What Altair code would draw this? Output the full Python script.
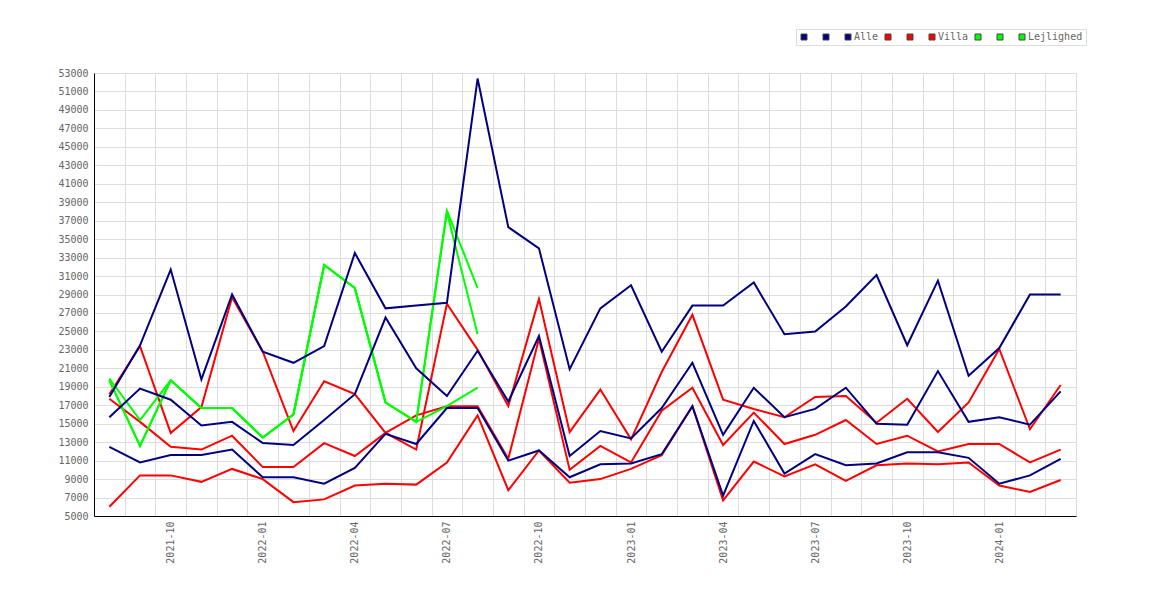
import altair as alt
import pandas as pd

months = ["2021-08", "2021-09", "2021-10", "2021-11", "2021-12",
          "2022-01", "2022-02", "2022-03", "2022-04", "2022-05", "2022-06",
          "2022-07", "2022-08", "2022-09", "2022-10", "2022-11", "2022-12",
          "2023-01", "2023-02", "2023-03", "2023-04", "2023-05", "2023-06",
          "2023-07", "2023-08", "2023-09", "2023-10", "2023-11", "2023-12",
          "2024-01", "2024-02", "2024-03"]

alle_a = [17900, 23500, 31700, 19800, 29000, 22800, 21600, 23400, 33500, 27500, 27800,
          28100, 52400, 36300, 34000, 20900, 27500, 30000, 22800, 27800, 27800, 30300,
          24700, 25000, 27700, 31100, 23500, 30500, 20200, 23200, 29000, 29000]
alle_b = [15700, 18800, 17600, 14800, 15200, 12900, 12700, 15400, 18200, 26500, 21000,
          18000, 22900, 17400, 24500, 11500, 14200, 13400, 16700, 21600, 13800, 18900,
          15700, 16600, 18900, 15000, 14900, 20700, 15200, 15700, 14900, 18500]
alle_c = [12500, 10800, 11600, 11600, 12200, 9200, 9200, 8500, 10200, 13900, 12800,
          16700, 16700, 11000, 12100, 9200, 10600, 10700, 11700, 16900, 7200, 15300,
          9600, 11700, 10500, 10700, 11900, 11900, 11300, 8500, 9400, 11200]

villa_a = [18200, 23400, 14000, 16800, 28700, 22800, 14200, 19600, 18200, 14000, 12200,
           28000, 23000, 16900, 28500, 14100, 18700, 13300, 20600, 26800, 17600, 16600,
           15700, 17900, 18000, 15100, 17700, 14100, 17300, 23100, 14400, 19200]
villa_b = [17700, 15200, 12500, 12200, 13700, 10300, 10300, 12900, 11500, 14000, 15900,
           16900, 16900, 11200, 24200, 10000, 12600, 10800, 16400, 18900, 12700, 16200,
           12800, 13800, 15400, 12800, 13700, 12000, 12800, 12800, 10800, 12200]
villa_c = [6000, 9400, 9400, 8700, 10100, 9000, 6500, 6800, 8300, 8500, 8400,
           10800, 15900, 7800, 12100, 8600, 9000, 10100, 11600, 16900, 6700, 10900,
           9300, 10600, 8800, 10500, 10700, 10600, 10800, 8300, 7600, 8900]

lej_a = [19900, 15400, 19700, 16700, 16700, 13500, 16000, 32200, 29700, 17300, 15200, 38100, 29700]
lej_b = [19700, 12600, 19700, 16700, 16700, 13500, 16000, 32200, 29700, 17300, 15200, 37900, 24700]
lej_c = [19700, 12600, 19700, 16700, 16700, 13500, 16000, 32200, 29700, 17300, 15200, 16900, 18900]

series_names = ["Alle_1", "Alle_2", "Alle", "Villa_1", "Villa_2", "Villa",
                "Lej_1", "Lej_2", "Lejlighed"]
series_colors = ["#000080", "#000080", "#000080", "#ff0000", "#ff0000", "#ff0000",
                 "#00ff00", "#00ff00", "#00ff00"]
y_ticks = list(range(5000, 53001, 2000))

groups = [("Alle", ["Alle_1", "Alle_2", "Alle"], [alle_a, alle_b, alle_c]),
          ("Villa", ["Villa_1", "Villa_2", "Villa"], [villa_a, villa_b, villa_c]),
          ("Lejlighed", ["Lej_1", "Lej_2", "Lejlighed"], [lej_a, lej_b, lej_c])]
rows = []
for g, names, arrs in groups:
    for name, arr in zip(names, arrs):
        for m, v in zip(months, arr):
            rows.append({"month": m, "value": v, "series": name, "group": g})
df = pd.DataFrame(rows)

FONT = "DejaVu Sans Mono"
LABEL_COLOR = "#666666"

x_enc = alt.X(
    "month:O",
    sort=months,
    bandPosition=0.5,
    scale=alt.Scale(type="band", domain=months, paddingInner=0, paddingOuter=0),
    axis=alt.Axis(
        title=None, labelAngle=270, tickBand="extent", grid=True, gridColor="#dddddd",
        ticks=False, tickSize=0, labelPadding=5, labelOverlap=False,
        labelFont=FONT, labelFontSize=10, labelColor=LABEL_COLOR, domainColor="#000000",
        labelExpr="(slice(datum.label,5)=='01'||slice(datum.label,5)=='04'||slice(datum.label,5)=='07'||slice(datum.label,5)=='10') ? datum.label : ''",
    ),
)
y_enc = alt.Y(
    "value:Q",
    scale=alt.Scale(domain=[5000, 53000], nice=False, zero=False),
    axis=alt.Axis(
        title=None, values=y_ticks, grid=True, gridColor="#dddddd", ticks=False, tickSize=0,
        labelPadding=6, labelFont=FONT, labelFontSize=10, labelColor=LABEL_COLOR,
        domainColor="#000000", format="d",
    ),
)

# reversed order for the line scale so it is not merged with the legend scale
stroke_scale = alt.Scale(domain=series_names[::-1], range=series_colors[::-1])

base = alt.Chart(df).mark_line(strokeWidth=2).encode(
    x=x_enc, y=y_enc,
    stroke=alt.Stroke("series:N", scale=stroke_scale, legend=None),
)
layers = [base.transform_filter(alt.datum.group == g) for g in ["Villa", "Lejlighed", "Alle"]]

legend_layer = alt.Chart(df).mark_point(shape="square", filled=True, size=0, opacity=1).encode(
    x=x_enc, y=y_enc,
    fill=alt.Fill(
        "series:N",
        scale=alt.Scale(domain=series_names, range=series_colors),
        legend=alt.Legend(
            title=None, orient="none", legendX=702, legendY=-44, direction="horizontal",
            columns=9, symbolType="square", symbolSize=36, symbolStrokeColor="#444444",
            symbolStrokeWidth=1, symbolOpacity=1, labelFont=FONT, labelFontSize=10,
            labelColor=LABEL_COLOR, labelOffset=1, columnPadding=4, padding=3,
            strokeColor="#dddddd", fillColor="#ffffff",
            labelExpr="(datum.label=='Alle'||datum.label=='Villa'||datum.label=='Lejlighed') ? datum.label : '\u200b \u200b'",
        ),
    ),
)

chart = alt.layer(*layers, legend_layer).properties(
    width=982, height=443,
    autosize=alt.AutoSizeParams(type="none"),
    padding={"left": 86, "top": 65, "right": 40, "bottom": 60},
    background="#ffffff",
).configure_view(stroke=None)

chart.save("out.html", embed_options={"renderer": "svg", "actions": False})
